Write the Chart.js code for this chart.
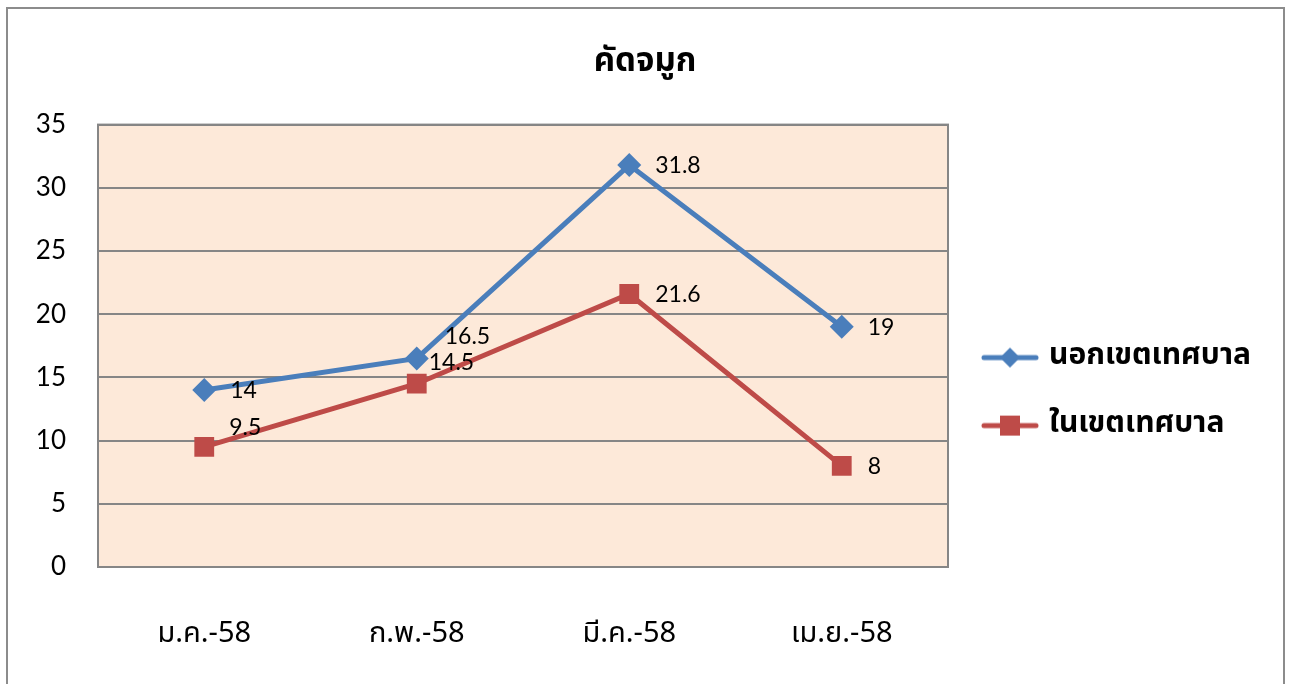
<!DOCTYPE html>
<html>
<head>
<meta charset="utf-8">
<script src="https://cdn.jsdelivr.net/npm/chart.js@4.4.1/dist/chart.umd.min.js"></script>
<style>
  html, body { margin: 0; padding: 0; background: #fff; }
  #wrap { width: 1290px; height: 684px; }
</style>
</head>
<body>
<div id="wrap"><canvas id="c" width="1290" height="684"></canvas></div>
<script>
// chart values
const months = ['ม.ค.-58', 'ก.พ.-58', 'มี.ค.-58', 'เม.ย.-58'];
const outside = [14, 16.5, 31.8, 19];   // นอกเขตเทศบาล
const inside = [9.5, 14.5, 21.6, 8];    // ในเขตเทศบาล
const yTicks = [0, 5, 10, 15, 20, 25, 30, 35];

const blue = '#4A7EBB';
const red = '#BE4B48';
const thaiFont = "Tahoma, 'Noto Sans Thai', 'Noto Sans', 'DejaVu Sans', sans-serif";

// little legend pictures: line with the marker in the middle
function legendIcon(color, shape) {
    const cv = document.createElement('canvas');
    cv.width = 58; cv.height = 26;
    const g = cv.getContext('2d');
    g.strokeStyle = color;
    g.lineWidth = 5;
    g.lineCap = 'round';
    g.beginPath();
    g.moveTo(3, 13); g.lineTo(55, 13);
    g.stroke();
    g.fillStyle = color;
    g.beginPath();
    if (shape === 'diamond') {
        g.moveTo(29, 3); g.lineTo(39, 13); g.lineTo(29, 23); g.lineTo(19, 13);
    } else {
        g.rect(19, 3, 20, 20);
    }
    g.fill();
    return cv;
}

// label nudges [dx, dy] per dataset / point, default is to the right
const labelNudge = {
    0: {1: [28, -22]},
    1: {0: [25, -19], 1: [12, -21]}
};

const framePlugin = {
    id: 'frame',
    beforeDraw(chart) {
        const ctx = chart.ctx;
        const a = chart.chartArea;
        ctx.save();
        ctx.fillStyle = '#fff';
        ctx.fillRect(0, 0, chart.width, chart.height);
        ctx.strokeStyle = '#8c8c8c';
        ctx.lineWidth = 2;
        ctx.strokeRect(7, 8, 1277, 700);
        ctx.fillStyle = '#FDE9D9';
        ctx.fillRect(a.left, a.top, a.right - a.left, a.bottom - a.top);
        ctx.restore();
    },
    afterDraw(chart) {
        const ctx = chart.ctx;
        const a = chart.chartArea;
        ctx.save();
        ctx.strokeStyle = '#868686';
        ctx.lineWidth = 2;
        ctx.strokeRect(a.left, a.top, a.right - a.left, a.bottom - a.top);
        ctx.restore();
    }
};

const valueLabels = {
    id: 'valueLabels',
    afterDatasetsDraw(chart) {
        const ctx = chart.ctx;
        ctx.save();
        ctx.font = "23px Lato, 'Liberation Sans', sans-serif";
        ctx.fillStyle = '#000';
        ctx.textBaseline = 'middle';
        ctx.textAlign = 'left';
        chart.data.datasets.forEach((ds, di) => {
            chart.getDatasetMeta(di).data.forEach((pt, i) => {
                const n = (labelNudge[di] && labelNudge[di][i]) || [26, 1];
                ctx.fillText(String(ds.data[i]), pt.x + n[0], pt.y + n[1]);
            });
        });
        ctx.restore();
    }
};

const legendSize = {
    id: 'legendSize',
    beforeInit(chart) {
        const lg = chart.legend;
        if (!lg) return;
        const fit = lg.fit;
        lg.fit = function () {
            fit.call(this);
            this.width = 342;
        };
    }
};

new Chart(document.getElementById('c'), {
    type: 'line',
    data: {
        labels: months,
        datasets: [
            {
                label: 'นอกเขตเทศบาล',
                data: outside,
                borderColor: blue,
                backgroundColor: blue,
                borderWidth: 5,
                pointStyle: 'rectRot',
                pointRadius: 12,
                pointBorderWidth: 0,
                tension: 0
            },
            {
                label: 'ในเขตเทศบาล',
                data: inside,
                borderColor: red,
                backgroundColor: red,
                borderWidth: 5,
                pointStyle: 'rect',
                pointRadius: 14,
                pointBorderWidth: 0,
                tension: 0
            }
        ]
    },
    options: {
        responsive: false,
        animation: false,
        layout: { padding: 0 },
        scales: {
            x: {
                offset: true,
                afterFit(scale) {
                    scale.height = 117;
                },
                grid: { display: false, drawTicks: false },
                border: { display: false },
                ticks: {
                    padding: 52,
                    color: '#000',
                    font: { family: thaiFont, size: 29 }
                }
            },
            y: {
                min: 0,
                max: 35,
                afterBuildTicks(scale) {
                    scale.ticks = yTicks.map(v => ({ value: v }));
                },
                afterFit(scale) {
                    scale.width = 98;
                },
                grid: { color: '#868686', lineWidth: 2, drawTicks: false },
                border: { display: false },
                ticks: {
                    padding: 32,
                    color: '#000',
                    font: { family: "Lato, 'Liberation Sans', sans-serif", size: 26 }
                }
            }
        },
        plugins: {
            title: {
                display: true,
                text: 'คัดจมูก',
                color: '#000',
                font: { family: thaiFont, size: 33, weight: 'bold' },
                padding: { top: 45, bottom: 40 }
            },
            legend: {
                position: 'right',
                align: 'center',
                title: { display: true, text: ' ', padding: { top: 98, bottom: 0 }, font: { size: 1 } },
                labels: {
                    usePointStyle: true,
                    pointStyleWidth: 48,
                    padding: 38,
                    color: '#000',
                    font: { family: thaiFont, size: 30, weight: 'bold' },
                    generateLabels(chart) {
                        return chart.data.datasets.map((ds, i) => ({
                            text: ds.label,
                            datasetIndex: i,
                            pointStyle: legendIcon(ds.borderColor, i === 0 ? 'diamond' : 'square'),
                            fillStyle: ds.borderColor,
                            strokeStyle: ds.borderColor,
                            lineWidth: 0,
                            fontColor: '#000'
                        }));
                    }
                }
            },
            tooltip: { enabled: false }
        }
    },
    plugins: [framePlugin, valueLabels, legendSize]
});
</script>
</body>
</html>
